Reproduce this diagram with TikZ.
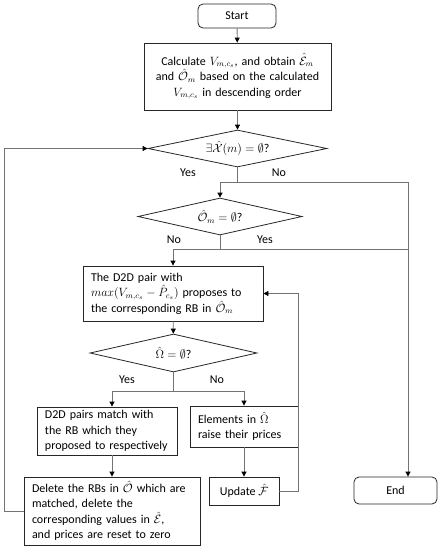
\documentclass[tikz,border=0pt]{standalone}
\usepackage{amssymb}
\usepackage{fontspec}
\setmainfont{Carlito}
\usetikzlibrary{shapes.geometric,arrows.meta}
\begin{document}
\begin{tikzpicture}[x=1pt,y=-1pt,
  every node/.style={font=\fontsize{12}{15.5}\selectfont},
  box/.style={draw=black!85,line width=0.8pt,rectangle,inner sep=0pt,align=center},
  lbox/.style={draw=black!85,line width=0.8pt,rectangle,inner xsep=8pt,inner ysep=0pt,align=left},
  term/.style={draw=black!85,line width=0.8pt,rectangle,rounded corners=5pt,inner sep=0pt},
  dec/.style={draw=black!85,line width=0.8pt,diamond,aspect=4.5,inner sep=0pt},
  conn/.style={draw=black!55,line width=0.8pt},
  arr/.style={conn,-{Triangle[length=5pt,width=5pt,fill=black,color=black]}},
  lab/.style={inner sep=0pt}]
\useasboundingbox (0,0) rectangle (441,550);
\node[term,minimum width=78pt,minimum height=24pt] (start) at (237,16) {Start};
\node[box,minimum width=187pt,minimum height=67pt,text width=180pt] (calc) at (237.5,76.5)
  {Calculate $V_{m,c_s}$, and obtain $\hat{\mathcal{E}}_m$\\ and $\hat{\mathcal{O}}_m$ based on the calculated\\ $V_{m,c_s}$ in descending order};
\node[dec,minimum width=179pt,minimum height=37pt] (d1) at (237.5,148.5) {$\exists\hat{\mathcal{X}}(m)=\emptyset$?};
\node[dec,minimum width=164pt,minimum height=37pt] (d2) at (220,216.5) {$\hat{\mathcal{O}}_m=\emptyset$?};
\node[lbox,minimum width=180pt,minimum height=55pt,text width=164pt] (b3) at (173,293.5)
  {The D2D pair with\\ $max\big(V_{m,c_s}-\hat{P}_{c_s}\big)$ proposes to\\ the corresponding RB in $\hat{\mathcal{O}}_m$};
\node[dec,minimum width=167pt,minimum height=38pt] (d3) at (173.5,353) {$\hat{\Omega}=\emptyset$?};
\node[lbox,minimum width=140pt,minimum height=48pt,text width=124pt] (b4) at (107,431)
  {D2D pairs match with\\ the RB which they\\ proposed to respectively};
\node[lbox,minimum width=108pt,minimum height=41pt,text width=92pt] (b5) at (244,426.5)
  {Elements in $\hat{\Omega}$\\ raise their prices};
\node[lbox,minimum width=176pt,minimum height=68pt,text width=160pt] (b6) at (112,511)
  {Delete the RBs in $\hat{\mathcal{O}}$ which are\\ matched, delete the\\ corresponding values in $\hat{\mathcal{E}}$,\\ and prices are reset to zero};
\node[box,minimum width=70pt,minimum height=28pt] (b7) at (244,491) {Update $\hat{\mathcal{F}}$};
\node[term,minimum width=83pt,minimum height=27pt] (end) at (395.5,490.5) {End};
\coordinate (j1) at (237.5,182);
\coordinate (jr) at (408,182);
\coordinate (j2) at (220,249);
\coordinate (j2r) at (408,249);
\coordinate (j3) at (173.5,391);
\draw[arr] (start) -- (calc);
\draw[arr] (calc) -- (d1);
\draw[conn] (d1.south) -- (j1);
\draw[arr] (j1) -| (d2.north);
\draw[arr] (j1) -- (jr) -- (jr |- end.north);
\draw[conn] (d2.south) -- (j2);
\draw[arr] (j2) -| (b3.north);
\draw[conn] (j2) -- (j2r);
\draw[arr] (b3) -- (d3);
\draw[conn] (d3.south) -- (j3);
\draw[arr] (j3) -| (b4.north -| b6.north);
\draw[arr] (j3) -| (b5.north);
\draw[arr] (b4.south -| b6.north) -- (b6.north);
\draw[arr] (b5) -- (b7);
\draw[arr] (b7.east) -- ++(19,0) |- (b3.east);
\draw[arr] (b6.west) -- ++(-19,0) |- (d1.west);
\node[lab] (y1) at (188,173) {Yes};
\node[lab] (n1) at (279,173) {No};
\node[lab] (n2) at (174,240) {No};
\node[lab] (y2) at (265,240) {Yes};
\node[lab] (y3) at (127,380) {Yes};
\node[lab] (n3) at (217,380) {No};
\end{tikzpicture}
\end{document}
